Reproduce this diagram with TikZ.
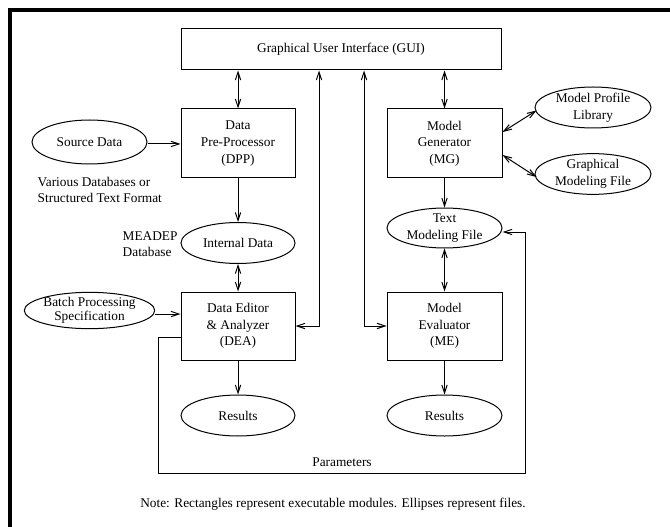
\documentclass[tikz,border=0pt]{standalone}
\usepackage{fontspec}
\setmainfont{Liberation Serif}
\usetikzlibrary{arrows.meta,shapes.geometric,calc}
\begin{document}
\begin{tikzpicture}[x=0.75pt,y=-0.75pt,
  every node/.style={font=\fontsize{10}{12.5}\selectfont},
  box/.style={draw,line width=0.75pt,rectangle,align=center,inner sep=0pt},
  file/.style={draw,line width=0.75pt,ellipse,align=center,inner sep=0pt},
  conn/.style={line width=0.75pt},
  >={Straight Barb[length=6pt,width=4pt]}]
\useasboundingbox (0,0) rectangle (670,527);
\fill[white] (0,0) rectangle (670,527);
\draw[line width=3pt] (10,527) -- (10,10) -- (670,10);

\node[box,minimum width=240pt,minimum height=30.75pt] (gui) at (341,49.5) {Graphical User Interface (GUI)};
\node[box,minimum width=85.5pt,minimum height=51.75pt] (dpp) at (238,143.5) {Data\\Pre-Processor\\(DPP)};
\node[box,minimum width=86.25pt,minimum height=51.75pt] (mg) at (444.5,143.5) {Model\\Generator\\(MG)};
\node[box,minimum width=85.5pt,minimum height=51pt] (dea) at (238,326) {Data Editor\\\& Analyzer\\(DEA)};
\node[box,minimum width=86.25pt,minimum height=51pt] (me) at (444.5,326) {Model\\Evaluator\\(ME)};

\node[file,minimum width=86.25pt,minimum height=33pt] (src) at (89.5,142) {Source Data};
\node[file,minimum width=85.5pt,minimum height=30.75pt] (intd) at (238,243) {Internal Data};
\node[file,minimum width=86.25pt,minimum height=26.25pt,font=\fontsize{10}{7.8}\selectfont] (batch) at (89.5,310.5) {Batch Processing\\Specification};
\node[file,minimum width=85.5pt,minimum height=30.75pt] (res1) at (238,415.5) {Results};
\node[file,minimum width=86.25pt,minimum height=30.75pt] (res2) at (444.5,415.5) {Results};
\node[file,minimum width=87pt,minimum height=30.75pt] (mpl) at (593,107.5) {Model Profile\\Library};
\node[file,minimum width=87pt,minimum height=28.5pt] (gmf) at (593,174) {Graphical\\Modeling File};
\node[file,minimum width=86.25pt,minimum height=30pt] (tmf) at (444.5,228) {Text\\Modeling File};

\node[align=left,anchor=west] (vdb) at (33,190) {Various Databases or\\Structured Text Format};
\node[align=left,anchor=west] (mdb) at (118,244) {MEADEP\\Database};
\node (par) at (342,462) {Parameters};
\node (note) at (333,504) {Note: Rectangles represent executable modules. Ellipses represent files.};

\coordinate (c1) at (319,0);
\coordinate (c2) at (364,0);
\coordinate (lx) at (158,0);
\coordinate (rx) at (525,0);
\coordinate (by) at (0,473);

\draw[conn,<->] (gui.south -| dpp.north) -- (dpp.north);
\draw[conn,<->] (gui.south -| mg.north) -- (mg.north);
\draw[conn,->] (src.east |- 0,144) -- (dpp.west |- 0,144);
\draw[conn,->] (dpp.south) -- (intd.north);
\draw[conn,<->] (intd.south) -- (dea.north);
\draw[conn,->] (batch.east |- 0,314) -- (dea.west |- 0,314);
\draw[conn,->] (dea.south) -- (res1.north);
\draw[conn,->] (me.south) -- (res2.north);
\draw[conn,->] (mg.south) -- (tmf.north);
\draw[conn,<->] (tmf.south) -- (me.north);
\draw[conn,<->] (dea.east) -| (gui.south -| c1);
\draw[conn,<->] (me.west) -| (gui.south -| c2);
\draw[conn,<->] ($(mg.east)+(0,-11.5)$) -- ($(mpl.west)+(2,3)$);
\draw[conn,<->] ($(mg.east)+(0,11.5)$) -- ($(gmf.west)+(2,3)$);
\draw[conn,->] ($(dea.west)+(0,11)$) -- (lx |- 0,337) -- (lx |- by) -- (rx |- by) -- (rx |- 0,232) -- (tmf.east |- 0,232);
\end{tikzpicture}
\end{document}
